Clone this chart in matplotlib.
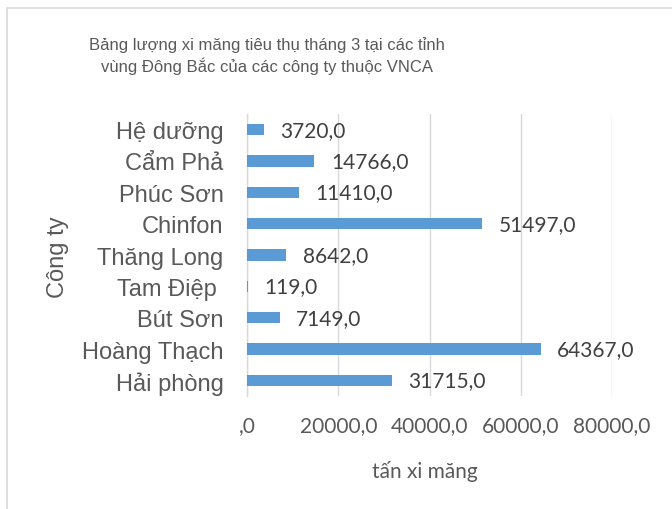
import matplotlib.pyplot as plt
import matplotlib.patches as patches
from matplotlib.ticker import FuncFormatter

# Excel order: first category is drawn at the bottom
companies = ['Hải phòng', 'Hoàng Thạch', 'Bút Sơn', 'Tam Điệp ', 'Thăng Long',
             'Chinfon', 'Phúc Sơn', 'Cẩm Phả', 'Hệ dưỡng']
tons = [31715, 64367, 7149, 119, 8642, 51497, 11410, 14766, 3720]
x_ticks = [0, 20000, 40000, 60000, 80000]

title = 'Bảng lượng xi măng tiêu thụ tháng 3 tại các tỉnh\nvùng Đông Bắc của các công ty thuộc VNCA'
x_title = 'tấn xi măng'
y_title = 'Công ty'

text_gray = '#595959'
grid_gray = '#D9D9D9'
bar_blue = '#5B9BD5'
arial = ['Liberation Sans', 'DejaVu Sans']
calibri = ['Lato', 'Open Sans', 'DejaVu Sans']


def fmt(v):
    s = f'{v:.1f}'.replace('.', ',')
    return ',0' if v == 0 else s


W, H = 672, 510
fig = plt.figure(figsize=(W / 100, H / 100), dpi=100)
ax = fig.add_axes([247 / W, 1 - 397 / H, (612 - 247) / W, (397 - 115) / H])

y = list(range(len(companies)))
bars = ax.barh(y, tons, height=0.36, color=bar_blue, zorder=3)
ax.bar_label(bars, labels=[fmt(v) for v in tons], padding=12,
             fontsize=15, family=calibri, color='#404040')

ax.set_xlim(0, 80000)
ax.set_ylim(-0.5, len(companies) - 0.5)
ax.set_xticks(x_ticks)
ax.xaxis.set_major_formatter(FuncFormatter(lambda v, p: fmt(v)))
ax.set_yticks(y)
ax.set_yticklabels(companies, family=arial, fontsize=17, color=text_gray)
for lbl in ax.get_xticklabels():
    lbl.set_family(calibri)
    lbl.set_fontsize(15)
    lbl.set_color(text_gray)
ax.tick_params(axis='both', length=0)
ax.tick_params(axis='y', pad=17)
ax.tick_params(axis='x', pad=14)

ax.grid(axis='x', color=grid_gray, lw=1, zorder=0)
for side in ['top', 'right', 'bottom']:
    ax.spines[side].set_visible(False)
ax.spines['left'].set_color(grid_gray)
ax.spines['left'].set_linewidth(1)

fig.text(267 / W, 1 - 56 / H, title, ha='center', va='center', family=arial,
         fontsize=12, color=text_gray, linespacing=1.3)
fig.text(425 / W, 1 - 471 / H, x_title, ha='center', va='center', family=calibri,
         fontsize=15, color=text_gray)
fig.text(58 / W, 1 - 257 / H, y_title, ha='center', va='center', rotation=90,
         family=arial, fontsize=17, color=text_gray)

# chart area border (cropped on the right and bottom)
fig.patches.append(patches.Rectangle((6.5 / W, -0.1), 2, 1.1 - 9 / H, fill=False,
                                     edgecolor=grid_gray, lw=1.2,
                                     transform=fig.transFigure, figure=fig))

fig.savefig('out.png', dpi=100)
